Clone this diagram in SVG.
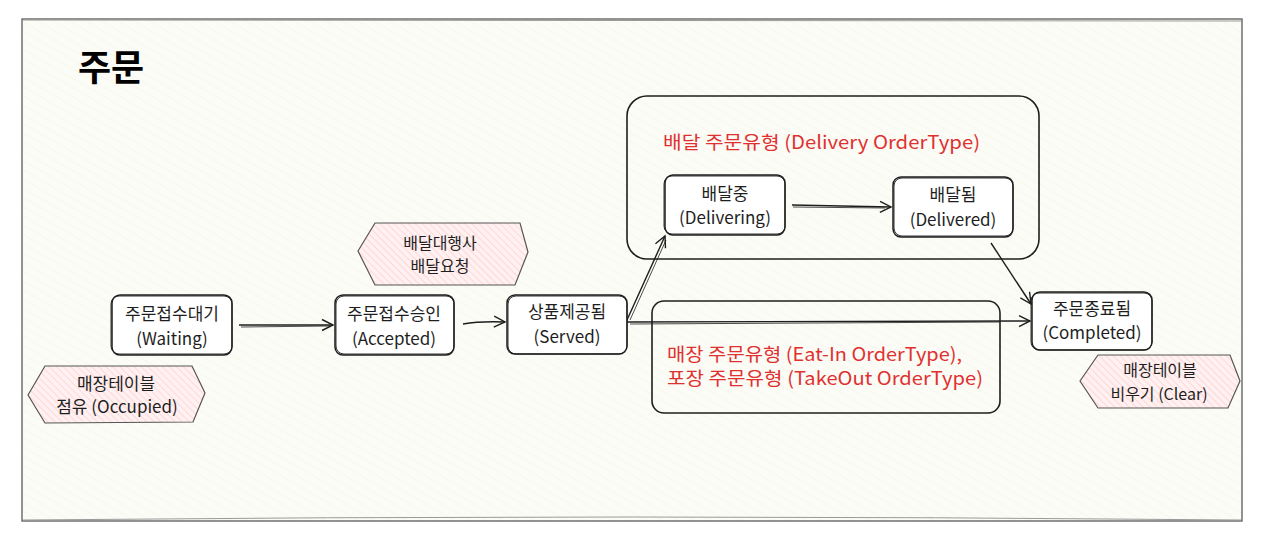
<svg xmlns="http://www.w3.org/2000/svg" width="1272" height="539" viewBox="0 0 1272 539">
  <style>
    .t{font-family:"Noto Sans CJK KR","Liberation Sans",sans-serif;font-size:17px;fill:#1e1e1e;text-anchor:middle;dominant-baseline:central}
    .h{font-size:16px}
    .s{font-size:16px}
    .red{font-family:"Noto Sans CJK KR","Liberation Sans",sans-serif;font-size:18.5px;fill:#e03131;dominant-baseline:central}
    .title{font-family:"Noto Sans CJK KR","Liberation Sans",sans-serif;font-size:36px;font-weight:bold;fill:#000}
    .node{fill:#ffffff;stroke:#1e1e1e;stroke-width:1.5}
    .node2{fill:none;stroke:#1e1e1e;stroke-width:0.9}
    .grp{fill:none;stroke:#1e1e1e;stroke-width:1.6}
    .hex{fill:url(#pink);stroke:#555;stroke-width:1.2}
    .conn{fill:none;stroke:#1e1e1e;stroke-width:1.4}
    .conn2{fill:none;stroke:#1e1e1e;stroke-width:0.8}
  </style>
  <defs>
    <pattern id="bg" patternUnits="userSpaceOnUse" width="8" height="8" patternTransform="rotate(-60)">
      <rect width="8" height="8" fill="#fcfcf7"/>
      <line x1="0" y1="0" x2="0" y2="8" stroke="#f2f2e6" stroke-width="1"/>
    </pattern>
    <pattern id="pink" patternUnits="userSpaceOnUse" width="5" height="5" patternTransform="rotate(-45)">
      <rect width="5" height="5" fill="#fff1f1"/>
      <line x1="0" y1="0" x2="0" y2="5" stroke="#ffc6c6" stroke-width="1.2"/>
    </pattern>
    <marker id="arr" markerWidth="14" markerHeight="14" refX="12" refY="7" orient="auto" markerUnits="userSpaceOnUse">
      <path d="M1,1.5 L12,7 L1,12.5" fill="none" stroke="#1e1e1e" stroke-width="1.4"/>
    </marker>
  </defs>

  <g id="frame">
    <rect x="22" y="19" width="1220" height="502" fill="url(#bg)" stroke="#666" stroke-width="1.4"/>
    <path d="M23,20 L1241,21 M23,520 Q630,514 1241,520" fill="none" stroke="#999" stroke-width="1"/>
    <text class="title" x="78" y="81">주문</text>
  </g>

  <g id="delivery-type">
    <rect class="grp" x="627" y="96" width="412" height="163" rx="20"/>
    <text class="red" x="663" y="141" textLength="317" lengthAdjust="spacingAndGlyphs">배달 주문유형 (Delivery OrderType)</text>
  </g>

  <g id="eatin-type">
    <rect class="grp" x="652" y="301" width="348" height="112" rx="12"/>
    <text class="red" x="667" y="353" textLength="295" lengthAdjust="spacingAndGlyphs">매장 주문유형 (Eat-In OrderType),</text>
    <text class="red" x="667" y="377" textLength="316" lengthAdjust="spacingAndGlyphs">포장 주문유형 (TakeOut OrderType)</text>
  </g>

  <g id="connectors">
    <path class="conn" d="M239,325 L333,325" marker-end="url(#arr)"/>
    <path class="conn2" d="M241,327 L330,326"/>
    <path class="conn" d="M463,324 Q480,321 505,322" marker-end="url(#arr)"/>
    <path class="conn" d="M627,320 L665,236" marker-end="url(#arr)"/>
    <path class="conn2" d="M630,320 L666,240"/>
    <path class="conn" d="M627,322 L1030,321" marker-end="url(#arr)"/>
    <path class="conn2" d="M630,324 L1000,322"/>
    <path class="conn" d="M792,205 L891,207" marker-end="url(#arr)"/>
    <path class="conn2" d="M793,207 L885,208"/>
    <path class="conn" d="M991,243 L1031,304" marker-end="url(#arr)"/>
  </g>

  <g id="waiting">
    <rect class="node" x="112" y="295" width="120" height="60" rx="8"/>
    <rect class="node2" x="111" y="296" width="121" height="58" rx="8"/>
    <text class="t" x="172" y="312">주문접수대기</text>
    <text class="t" x="172" y="337">(Waiting)</text>
  </g>

  <g id="accepted">
    <rect class="node" x="335" y="295" width="119" height="60" rx="8"/>
    <rect class="node2" x="336" y="296" width="118" height="58" rx="8"/>
    <text class="t" x="394" y="312">주문접수승인</text>
    <text class="t" x="394" y="337">(Accepted)</text>
  </g>

  <g id="served">
    <rect class="node" x="507" y="295" width="120" height="59" rx="8"/>
    <rect class="node2" x="508" y="296" width="119" height="58" rx="8"/>
    <text class="t" x="567" y="310">상품제공됨</text>
    <text class="t" x="567" y="335">(Served)</text>
  </g>

  <g id="delivering">
    <rect class="node" x="665" y="175" width="120" height="60" rx="8"/>
    <rect class="node2" x="664" y="176" width="121" height="58" rx="8"/>
    <text class="t" x="725" y="192">배달중</text>
    <text class="t" x="725" y="216">(Delivering)</text>
  </g>

  <g id="delivered">
    <rect class="node" x="893" y="177" width="120" height="60" rx="8"/>
    <rect class="node2" x="894" y="178" width="119" height="58" rx="8"/>
    <text class="t" x="953" y="193">배달됨</text>
    <text class="t" x="953" y="218">(Delivered)</text>
  </g>

  <g id="completed">
    <rect class="node" x="1032" y="292" width="120" height="58" rx="8"/>
    <rect class="node2" x="1031" y="293" width="121" height="57" rx="8"/>
    <text class="t" x="1092" y="307">주문종료됨</text>
    <text class="t" x="1092" y="331">(Completed)</text>
  </g>

  <g id="delivery-request">
    <polygon class="hex" points="358,251 375,223 520,223 528,252 515,285 375,285"/>
    <text class="t h" x="440" y="242">배달대행사</text>
    <text class="t h" x="440" y="265">배달요청</text>
  </g>

  <g id="occupied">
    <polygon class="hex" points="28,395 45,366 192,366 205,393 193,422 45,423"/>
    <text class="t" x="116" y="382">매장테이블</text>
    <text class="t" x="117" y="405">점유 (Occupied)</text>
  </g>

  <g id="clear">
    <polygon class="hex" points="1080,381 1098,355 1230,355 1240,381 1228,408 1098,408"/>
    <text class="t s" x="1160" y="369">매장테이블</text>
    <text class="t s" x="1159" y="393">비우기 (Clear)</text>
  </g>
</svg>
